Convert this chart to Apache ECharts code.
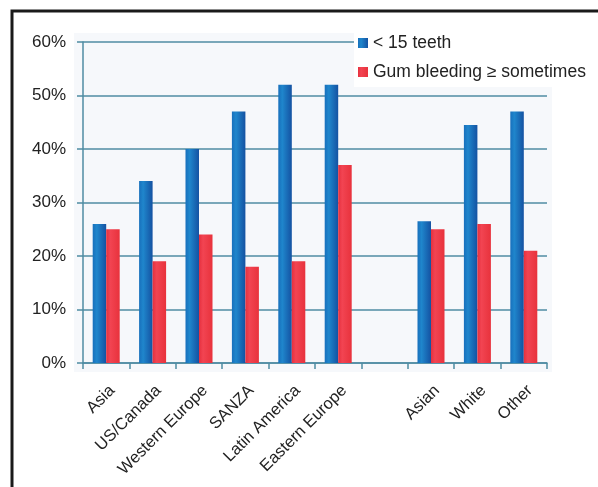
<!DOCTYPE html>
<html>
<head>
<meta charset="utf-8">
<script src="https://cdn.jsdelivr.net/npm/echarts@6/dist/echarts.min.js"></script>
<style>
  html, body { margin: 0; padding: 0; background: #ffffff; }
  #chart { width: 598px; height: 487px; }
</style>
</head>
<body>
<div id="chart"></div>
<script>
// Regions, then a spacer, then ethnic groups
const categories = ['Asia', 'US/Canada', 'Western Europe', 'SANZA', 'Latin America', 'Eastern Europe', '', 'Asian', 'White', 'Other'];
const fewTeeth = [26, 34, 40, 47, 52, 52, null, 26.5, 44.5, 47];
const gumBleeding = [25, 19, 24, 18, 19, 37, null, 25, 26, 21];
const yTicks = [0, 10, 20, 30, 40, 50, 60];
const seriesNames = ['< 15 teeth', 'Gum bleeding \u2265 sometimes'];

const chart = echarts.init(document.getElementById('chart'), null, { renderer: 'canvas' });

const gridColor = '#4f8ca3';
const font = 'Liberation Sans, Arial, Helvetica, sans-serif';

// Horizontal gradient giving the bars a rounded, lit-from-the-left look
function cylinder(light, mid, dark) {
  return new echarts.graphic.LinearGradient(0, 0, 1, 0, [
    { offset: 0, color: mid },
    { offset: 0.3, color: light },
    { offset: 1, color: dark }
  ]);
}

chart.setOption({
  animation: false,
  backgroundColor: '#ffffff',
  graphic: [
    {
      type: 'rect', z: -10, silent: true,
      shape: { x: 12, y: 11, width: 620, height: 500 },
      style: { fill: 'none', stroke: '#1a1a1a', lineWidth: 3 }
    },
    {
      type: 'rect', z: -9, silent: true,
      shape: { x: 74, y: 33, width: 478, height: 339 },
      style: { fill: '#f6f8fb' }
    }
  ],
  legend: {
    data: seriesNames,
    orient: 'vertical',
    left: 354,
    top: 31,
    itemWidth: 10,
    itemHeight: 10,
    itemGap: 11,
    padding: [3, 20, 6, 4],
    backgroundColor: '#ffffff',
    icon: 'rect',
    textStyle: { fontFamily: font, fontSize: 17.5, color: '#222222' }
  },
  grid: { left: 83, right: 51, top: 42, bottom: 124, containLabel: false },
  xAxis: {
    type: 'category',
    data: categories,
    boundaryGap: true,
    axisLine: { show: true, lineStyle: { color: gridColor, width: 1.5 } },
    axisTick: { show: true, length: 6, alignWithLabel: false, lineStyle: { color: gridColor, width: 1.5 } },
    axisLabel: {
      rotate: 45,
      interval: 0,
      margin: 19,
      align: 'right',
      verticalAlign: 'top',
      fontFamily: font,
      fontSize: 16.5,
      color: '#222222'
    }
  },
  yAxis: {
    type: 'value',
    min: yTicks[0],
    max: yTicks[yTicks.length - 1],
    interval: 10,
    axisLine: { show: true, lineStyle: { color: gridColor, width: 1.5 } },
    axisTick: { show: true, length: 6, lineStyle: { color: gridColor, width: 1.5 } },
    splitLine: { show: true, lineStyle: { color: gridColor, width: 1.5 } },
    axisLabel: {
      formatter: v => v + '%',
      margin: 17,
      fontFamily: font,
      fontSize: 17,
      color: '#222222'
    }
  },
  series: [
    {
      name: seriesNames[0],
      type: 'bar',
      data: fewTeeth,
      barWidth: 13.5,
      barGap: '0%',
      itemStyle: { color: cylinder('#1f86cc', '#1870bc', '#1452a2') },
      emphasis: { disabled: true }
    },
    {
      name: seriesNames[1],
      type: 'bar',
      data: gumBleeding,
      barWidth: 13.5,
      barGap: '0%',
      itemStyle: { color: cylinder('#f24452', '#e6303e', '#e8323c') },
      emphasis: { disabled: true }
    }
  ]
});
</script>
</body>
</html>
